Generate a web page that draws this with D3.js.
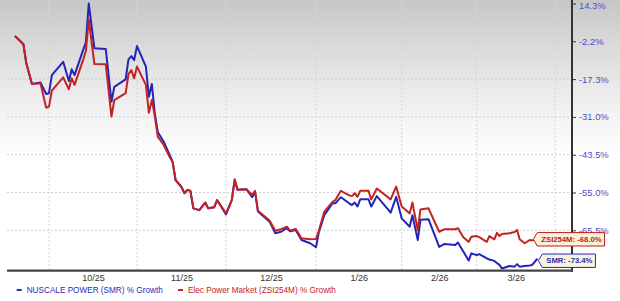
<!DOCTYPE html>
<html>
<head>
<meta charset="utf-8">
<script src="https://cdn.jsdelivr.net/npm/d3@7"></script>
<style>
  body { margin: 0; background: #fff; }
  svg { display: block; font-family: "Liberation Sans", Arial, sans-serif; }
</style>
</head>
<body>
<svg id="chart"></svg>
<script>
// trading dates
var dates = [
  "2025-09-19","2025-09-22","2025-09-23","2025-09-25","2025-09-27","2025-09-28","2025-09-30",
  "2025-10-01","2025-10-02","2025-10-06","2025-10-08","2025-10-09","2025-10-10","2025-10-13",
  "2025-10-14","2025-10-15","2025-10-17","2025-10-21","2025-10-23","2025-10-24","2025-10-28",
  "2025-10-29","2025-10-30","2025-10-31","2025-11-01","2025-11-04","2025-11-05","2025-11-06",
  "2025-11-07","2025-11-08","2025-11-10","2025-11-12","2025-11-13","2025-11-14","2025-11-16",
  "2025-11-17","2025-11-18","2025-11-19","2025-11-20","2025-11-22","2025-11-24","2025-11-25",
  "2025-11-27","2025-11-28","2025-12-01","2025-12-03","2025-12-04","2025-12-05","2025-12-08",
  "2025-12-10","2025-12-11","2025-12-12","2025-12-16","2025-12-18","2025-12-20","2025-12-22",
  "2025-12-23","2025-12-25","2025-12-27","2025-12-30","2026-01-01","2026-01-02","2026-01-04",
  "2026-01-07","2026-01-08","2026-01-10","2026-01-13","2026-01-14","2026-01-15","2026-01-16",
  "2026-01-17","2026-01-20","2026-01-21","2026-01-23","2026-01-28","2026-01-30","2026-02-01",
  "2026-02-04","2026-02-05","2026-02-07","2026-02-08","2026-02-11","2026-02-15","2026-02-17",
  "2026-02-21","2026-02-22","2026-02-24","2026-02-26","2026-02-27","2026-03-01","2026-03-02",
  "2026-03-05","2026-03-06","2026-03-08","2026-03-09","2026-03-10","2026-03-11","2026-03-14",
  "2026-03-16","2026-03-17","2026-03-18","2026-03-20","2026-03-22","2026-03-23","2026-03-25"
];

// NUSCALE POWER (SMR) % growth
var smrValues = [
  0.1, -3.4, -11.0, -19.1, -18.7, -18.5, -22.7,
  -22.4, -15.7, -10.4, -18.0, -13.4, -15.7, -5.7,
  -2.6, 14.3, -5.0, -5.3, -25.5, -20.1, -17.4,
  -9.4, -8.1, -9.7, -4.1, -12.3, -23.7, -19.1,
  -29.7, -36.0, -39.2, -43.6, -45.6, -51.2, -53.3,
  -55.2, -54.2, -54.5, -59.4, -59.9, -57.8, -59.4,
  -59.1, -57.1, -61.1, -57.1, -51.2, -54.2, -54.0,
  -56.3, -54.8, -60.3, -63.1, -66.3, -65.9, -64.9,
  -65.8, -65.4, -68.2, -69.1, -70.2, -66.1, -61.3,
  -58.0, -58.0, -56.3, -58.0, -58.5, -57.8, -58.9,
  -56.9, -56.9, -58.9, -56.0, -60.6, -56.2, -62.2,
  -64.5, -61.3, -68.2, -62.6, -62.4, -70.1, -69.3,
  -69.6, -68.9, -71.4, -73.9, -71.9, -72.4, -72.1,
  -73.3, -73.6, -74.0, -74.6, -75.1, -76.1, -75.4,
  -75.6, -74.9, -75.6, -75.4, -75.3, -75.1, -73.4
];

// Elec Power Market (ZSI254M) % growth
var zsiValues = [
  0.1, -3.4, -11.0, -19.1, -18.9, -18.8, -27.7,
  -27.3, -21.5, -16.6, -21.0, -17.0, -19.4, -9.7,
  -6.0, 7.4, -11.3, -11.4, -30.9, -24.9, -22.4,
  -15.3, -13.7, -17.0, -12.3, -19.4, -29.5, -24.9,
  -30.7, -37.5, -40.3, -44.2, -45.7, -51.2, -53.4,
  -55.2, -54.2, -54.5, -59.4, -59.9, -57.8, -59.4,
  -59.1, -57.1, -60.8, -57.1, -51.0, -54.2, -54.0,
  -55.7, -54.5, -60.1, -62.8, -65.6, -65.2, -64.5,
  -65.6, -65.1, -67.7, -68.0, -67.9, -65.7, -60.3,
  -57.6, -57.1, -54.5, -55.8, -56.0, -55.2, -56.2,
  -54.5, -54.5, -56.9, -53.8, -56.9, -53.2, -58.9,
  -60.8, -57.8, -65.5, -59.7, -59.4, -65.9, -65.2,
  -65.2, -64.9, -67.4, -68.7, -67.3, -67.1, -67.4,
  -68.7, -67.1, -68.0, -66.2, -67.1, -66.5, -66.3,
  -66.0, -65.4, -68.0, -69.1, -68.2, -68.3, -68.0
];

var yTicks = [14.3, -2.2, -17.3, -31.0, -43.5, -55.0, -65.5];
var monthStarts = ["2025-10-01","2025-11-01","2025-12-01","2026-01-01","2026-02-01","2026-03-01","2026-04-01"];
var monthLabels = ["10/25","11/25","12/25","1/26","2/26","3/26"];

var seriesNames = ["NUSCALE POWER (SMR) % Growth", "Elec Power Market (ZSI254M) % Growth"];
var seriesShort = ["SMR", "ZSI254M"];

var width = 620, height = 301;
var plotLeft = 7, plotRight = 572, plotBottom = 270.7;

var parse = d3.timeParse("%Y-%m-%d");
var dateObjs = dates.map(parse);
var monthDates = monthStarts.map(parse);

var svg = d3.select("#chart").attr("width", width).attr("height", height);

// background gradient
var defs = svg.append("defs");
var grad = defs.append("linearGradient").attr("id", "bg")
    .attr("x1", 0).attr("y1", 0).attr("x2", 0).attr("y2", 1);
grad.append("stop").attr("offset", "0%").attr("stop-color", "#c6c6c6");
grad.append("stop").attr("offset", "15%").attr("stop-color", "#dadada");
grad.append("stop").attr("offset", "38%").attr("stop-color", "#f3f3f3");
grad.append("stop").attr("offset", "52%").attr("stop-color", "#ffffff");
svg.append("rect").attr("width", width).attr("height", height).attr("fill", "url(#bg)");

// x: month boundaries are spaced a little unevenly on the source chart
var xScale = d3.scaleTime()
    .domain(monthDates)
    .range([49, 137, 226, 316, 401.7, 476.7, 555]);

var yScale = d3.scaleLinear()
    .domain(yTicks)
    .range(yTicks.map((d, i) => 3.5 + i * 37.8));

// grid
svg.append("g").selectAll("line")
    .data(yTicks)
    .enter().append("line")
    .attr("x1", plotLeft).attr("x2", plotRight)
    .attr("y1", d => yScale(d)).attr("y2", d => yScale(d))
    .attr("stroke", "#cfcfcf").attr("stroke-dasharray", "2,2");

svg.append("g").selectAll("line")
    .data(monthDates)
    .enter().append("line")
    .attr("x1", d => xScale(d)).attr("x2", d => xScale(d))
    .attr("y1", 0).attr("y2", plotBottom)
    .attr("stroke", "#d6d6d6").attr("stroke-dasharray", "2,2");

// lines
var line = d3.line()
    .x(d => xScale(d[0]))
    .y(d => yScale(d[1]));

var smrPts = dateObjs.map((d, i) => [d, smrValues[i]]);
var zsiPts = dateObjs.map((d, i) => [d, zsiValues[i]]);

svg.append("path").datum(smrPts)
    .attr("d", line).attr("fill", "none")
    .attr("stroke", "#2424b8").attr("stroke-width", 2).attr("stroke-linejoin", "round");

svg.append("path").datum(zsiPts)
    .attr("d", line).attr("fill", "none")
    .attr("stroke", "#c32222").attr("stroke-width", 2).attr("stroke-linejoin", "round");

// right axis
var yAxis = d3.axisRight(yScale)
    .tickValues(yTicks)
    .tickSize(4)
    .tickPadding(3)
    .tickFormat(d => d.toFixed(1) + "%");

var yAxisG = svg.append("g")
    .attr("transform", "translate(" + plotRight + ",0)")
    .call(yAxis);
yAxisG.select(".domain").remove();
yAxisG.selectAll(".tick line").attr("stroke", "#333");
yAxisG.selectAll(".tick text")
    .attr("fill", "#4d4dc4")
    .style("font-size", "9.4px")
    .style("font-family", "Liberation Sans, Arial, sans-serif");
// keep the top label inside the picture
yAxisG.selectAll(".tick text").filter(d => d === yTicks[0]).attr("dy", "0.48em");

svg.append("line")
    .attr("x1", plotRight).attr("x2", plotRight)
    .attr("y1", 0).attr("y2", plotBottom + 1)
    .attr("stroke", "#333").attr("stroke-width", 2);

// bottom axis: labels sit in the middle of each month
var labelDates = monthLabels.map((m, i) => new Date((+monthDates[i] + +monthDates[i + 1]) / 2));
var xAxis = d3.axisBottom(xScale)
    .tickValues(labelDates)
    .tickSize(0)
    .tickPadding(4)
    .tickFormat((d, i) => monthLabels[i]);

var xAxisG = svg.append("g")
    .attr("transform", "translate(0," + plotBottom + ")")
    .call(xAxis);
xAxisG.select(".domain").remove();
xAxisG.selectAll(".tick text")
    .attr("fill", "#333")
    .style("font-size", "9px")
    .style("font-family", "Liberation Sans, Arial, sans-serif");

svg.append("line")
    .attr("x1", plotLeft).attr("x2", plotRight + 1)
    .attr("y1", plotBottom).attr("y2", plotBottom)
    .attr("stroke", "#444").attr("stroke-width", 2.2);

// end-of-line callouts
var callouts = [
  { name: seriesShort[1], value: zsiValues[zsiValues.length - 1], color: "#b51d1d", fill: "#fcefd8", shift: -4 },
  { name: seriesShort[0], value: smrValues[smrValues.length - 1], color: "#2a2ab0", fill: "#f8f4dc", shift: 1 }
];
var lastDate = dateObjs[dateObjs.length - 1];

callouts.forEach(function(c) {
    var tipX = xScale(lastDate) + c.shift;
    var cy = yScale(c.value) + (c.name === "SMR" ? 2 : 0);
    var g = svg.append("g");
    var txt = g.append("text")
        .attr("x", tipX + 8)
        .attr("y", cy)
        .attr("dy", "0.35em")
        .attr("fill", c.color)
        .style("font-size", "7.7px")
        .style("font-weight", "bold")
        .text(c.name + ": " + c.value.toFixed(1) + "%");
    var w = txt.node().getComputedTextLength();
    var h = 13.4;
    var x0 = tipX + 4, x1 = tipX + 8 + w + 3;
    g.insert("path", "text")
        .attr("d", "M" + tipX + "," + cy +
            "L" + x0 + "," + (cy - h / 2) +
            "L" + x1 + "," + (cy - h / 2) +
            "L" + x1 + "," + (cy + h / 2) +
            "L" + x0 + "," + (cy + h / 2) + "Z")
        .attr("fill", c.fill)
        .attr("stroke", c.color)
        .attr("stroke-width", 1);
});

// legend
var legend = svg.append("g").attr("transform", "translate(0,290)");
var legendItems = [
  { label: seriesNames[0], color: "#2a2ab8", x: 16.7 },
  { label: seriesNames[1], color: "#c32222", x: 178 }
];
legendItems.forEach(function(d) {
    legend.append("line")
        .attr("x1", d.x).attr("x2", d.x + 5)
        .attr("y1", 0).attr("y2", 0)
        .attr("stroke", d.color).attr("stroke-width", 2);
    legend.append("text")
        .attr("x", d.x + 10).attr("y", 0).attr("dy", "0.35em")
        .attr("fill", d.color)
        .style("font-size", "8.2px")
        .text(d.label);
});
</script>
</body>
</html>
